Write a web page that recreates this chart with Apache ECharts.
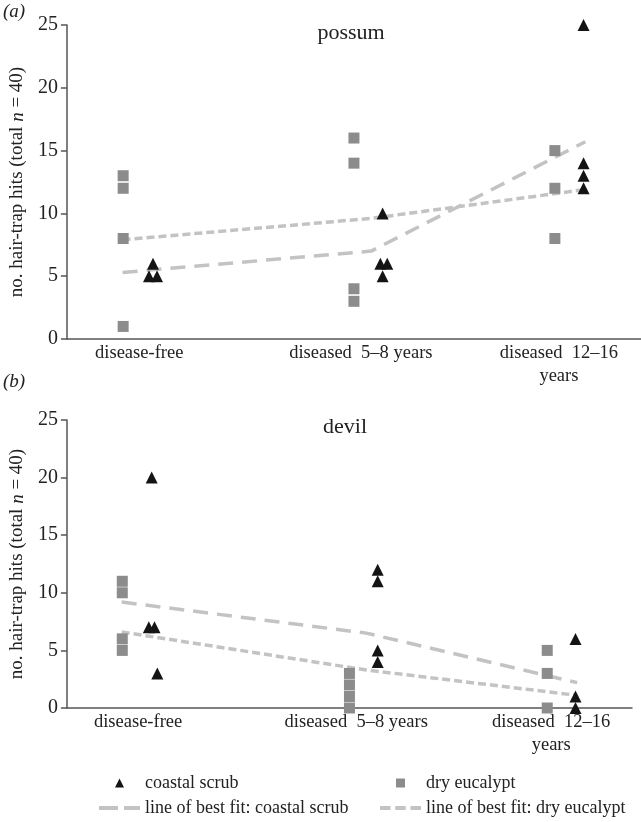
<!DOCTYPE html>
<html>
<head>
<meta charset="utf-8">
<script src="https://cdn.jsdelivr.net/npm/echarts@6/dist/echarts.min.js"></script>
<style>html,body{margin:0;padding:0;background:#fff}#c{width:641px;height:822px}</style>
</head>
<body>
<div id="c"></div>
<script>
// ---- data ----
const categories = ['disease-free', 'diseased  5–8 years', 'diseased  12–16\nyears'];
const labelX = [1.26, 5.12, 8.57];      // x-axis position of category labels
const squareX = [0.98, 5.0, 8.5];       // dry eucalypt x position per category
const triangleX = [1.5, 5.5, 9.0];      // coastal scrub x position per category
const fitX = [0.97, 5.3, 9.03];         // best-fit line x per category
const yTicks = [0, 5, 10, 15, 20, 25];

const possumDry = [[13, 12, 8, 1], [16, 14, 4, 3], [15, 12, 8]];
const possumCoastal = [[6, 5, 5], [10, 6, 6, 5], [25, 14, 13, 12]];
const possumCoastalJitter = [[0, -0.07, 0.07], [0, -0.04, 0.08, 0], [0, 0, 0, 0]];
const possumFitCoastal = [5.3, 7.0, 15.7];
const possumFitDry = [7.9, 9.6, 11.9];

const devilDry = [[11, 10, 6, 5], [3, 2, 1, 0], [5, 3, 0]];
const devilCoastal = [[20, 7, 7, 3], [12, 11, 5, 4], [6, 1, 0]];
const devilCoastalJitter = [[0, -0.05, 0.05, 0.1], [0, 0, 0, 0], [0, 0, 0]];
const devilFitCoastal = [9.2, 6.5, 2.2];
const devilFitDry = [6.6, 3.3, 1.1];

// ---- build ----
const FONT = 'Liberation Serif';
const TXT = '#222';
const AXIS = '#555';
const SQ = '#8c8c8c';
const TRI = '#141414';
const FIT = '#c3c3c3';

const ICON_TRI = 'path://M5,0L10,10L0,10Z';
const ICON_SQ = 'path://M0,0H10V10H0Z';
const ICON_LONG = 'path://M0,0H19V4H0ZM25,0H41V4H25Z';
const ICON_SHORT = 'path://M0,0H10V4H0ZM14.5,0H24.5V4H14.5ZM29,0H39V4H29Z';

function pts(groups, xs, jitter) {
  const out = [];
  groups.forEach((g, i) => g.forEach((v, j) => {
    out.push([xs[i] + (jitter ? jitter[i][j] : 0), v]);
  }));
  return out;
}
function fit(vals) { return vals.map((v, i) => [fitX[i], v]); }

function xAxis(gi) {
  return {
    type: 'value', gridIndex: gi, min: 0, max: 10,
    splitLine: {show: false},
    axisTick: {show: false},
    axisLine: {show: true, lineStyle: {color: AXIS, width: 1.5}},
    axisLabel: {
      customValues: labelX,
      margin: 3,
      fontFamily: FONT, fontSize: 18.5, color: TXT, lineHeight: 23,
      formatter: v => {
        let k = 0, d = 1e9;
        labelX.forEach((p, i) => { if (Math.abs(p - v) < d) { d = Math.abs(p - v); k = i; } });
        return categories[k];
      }
    }
  };
}
function yAxis(gi) {
  return {
    type: 'value', gridIndex: gi, min: 0, max: 25, interval: 5,
    splitLine: {show: false},
    axisLine: {show: true, lineStyle: {color: AXIS, width: 1.5}},
    axisTick: {show: true, length: 6, lineStyle: {color: AXIS, width: 1.5}},
    axisLabel: {fontFamily: FONT, fontSize: 20, color: TXT, margin: 9,
      formatter: v => yTicks.includes(v) ? String(v) : ''},
    name: '{a|no. hair-trap hits (total }{b|n}{a| = 40)}',
    nameLocation: 'middle', nameGap: 38,
    nameTextStyle: {
      color: TXT,
      rich: {
        a: {fontFamily: FONT, fontSize: 19, color: TXT},
        b: {fontFamily: FONT, fontSize: 19, color: TXT, fontStyle: 'italic'}
      }
    }
  };
}
function scatter(name, gi, data, symbol, color, size) {
  return {name, type: 'scatter', xAxisIndex: gi, yAxisIndex: gi, data, symbol,
    symbolSize: size, itemStyle: {color, opacity: 1}, z: 3, silent: true};
}
function line(name, gi, data, dash) {
  return {name, type: 'line', xAxisIndex: gi, yAxisIndex: gi, data, symbol: 'none',
    lineStyle: {color: FIT, width: 3.5, type: dash}, itemStyle: {color: FIT}, z: 2, silent: true};
}
function legendCol(left, items) {
  return {orient: 'vertical', left, top: 774, height: 50, padding: 0,
    itemWidth: 41, itemHeight: 9, itemGap: 7, symbolKeepAspect: true,
    textStyle: {fontFamily: 'serif', fontSize: 18, color: TXT, fontWeight: 'normal'},
    selectedMode: false,
    data: items};
}

const option = {
  animation: false,
  backgroundColor: '#fff',
  textStyle: {fontFamily: FONT},
  grid: [
    {left: 61, right: 0, top: 25, height: 314},
    {left: 59, right: 9, top: 420, height: 288}
  ],
  xAxis: [xAxis(0), xAxis(1)],
  yAxis: [yAxis(0), yAxis(1)],
  legend: [
    legendCol(99, [
      {name: 'coastal scrub', icon: ICON_TRI},
      {name: 'line of best fit: coastal scrub', icon: ICON_LONG}
    ]),
    legendCol(380, [
      {name: 'dry eucalypt', icon: ICON_SQ},
      {name: 'line of best fit: dry eucalypt', icon: ICON_SHORT}
    ])
  ],
  graphic: [
    {type: 'text', x: 3, y: 12, style: {text: '(a)', font: 'italic 19px "Liberation Serif"', fill: TXT, verticalAlign: 'middle'}},
    {type: 'text', x: 3, y: 382, style: {text: '(b)', font: 'italic 19px "Liberation Serif"', fill: TXT, verticalAlign: 'middle'}},
    {type: 'text', x: 351, y: 33, style: {text: 'possum', font: '22px "Liberation Serif"', fill: TXT, align: 'center', verticalAlign: 'middle'}},
    {type: 'text', x: 345, y: 427, style: {text: 'devil', font: '22px "Liberation Serif"', fill: TXT, align: 'center', verticalAlign: 'middle'}}
  ],
  series: [
    line('line of best fit: coastal scrub', 0, fit(possumFitCoastal), [15, 9]),
    line('line of best fit: dry eucalypt', 0, fit(possumFitDry), [8, 4]),
    scatter('dry eucalypt', 0, pts(possumDry, squareX), 'rect', SQ, 11),
    scatter('coastal scrub', 0, pts(possumCoastal, triangleX, possumCoastalJitter), 'triangle', TRI, 12),
    line('line of best fit: coastal scrub', 1, fit(devilFitCoastal), [15, 9]),
    line('line of best fit: dry eucalypt', 1, fit(devilFitDry), [8, 4]),
    scatter('dry eucalypt', 1, pts(devilDry, squareX), 'rect', SQ, 11),
    scatter('coastal scrub', 1, pts(devilCoastal, triangleX, devilCoastalJitter), 'triangle', TRI, 12)
  ]
};
const chart = echarts.init(document.getElementById('c'), null, {renderer: 'canvas'});
chart.setOption(option);
</script>
</body>
</html>
